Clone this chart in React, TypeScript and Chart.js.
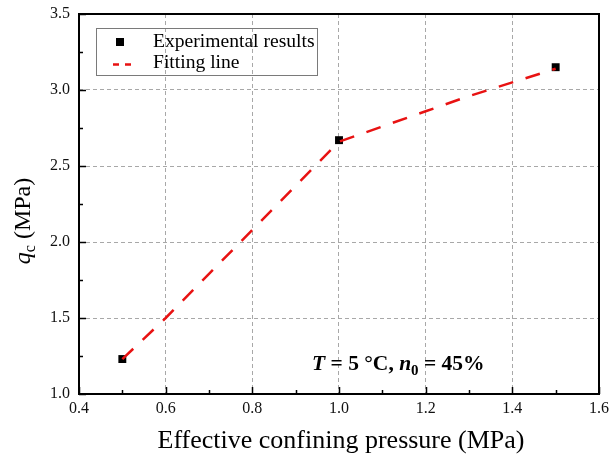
import React, { useEffect, useRef } from 'react';
import { Chart, registerables } from 'chart.js';
Chart.register(...registerables);

const pressures = [0.5, 1.0, 1.5];
const qcMeasured = [1.23, 2.67, 3.15];
const fitPressures = [0.5, 0.6, 0.7, 0.8, 0.9, 1.0, 1.1, 1.2, 1.3, 1.4, 1.5];
const fitQc = [1.23, 1.5, 1.79, 2.08, 2.37, 2.66, 2.76, 2.86, 2.96, 3.05, 3.14];
const xMajorTicks = [0.4, 0.6, 0.8, 1.0, 1.2, 1.4, 1.6];
const xMinorTicks = [0.5, 0.7, 0.9, 1.1, 1.3, 1.5];
const yMajorTicks = [1.0, 1.5, 2.0, 2.5, 3.0, 3.5];
const yMinorTicks = [1.25, 1.75, 2.25, 2.75, 3.25];
const seriesLabels = ['Experimental results', 'Fitting line'];
const xTitle = 'Effective confining pressure (MPa)';

const SERIF = "'Liberation Serif', 'Times New Roman', serif";
const RED = 'rgb(232,18,18)';

type Run = { text: string; font: string; dy?: number };
function drawRuns(ctx: CanvasRenderingContext2D, runs: Run[], x: number, y: number, align: 'left' | 'center') {
  let total = 0;
  for (const r of runs) { ctx.font = r.font; total += ctx.measureText(r.text).width; }
  let cx = align === 'center' ? x - total / 2 : x;
  for (const r of runs) {
    ctx.font = r.font;
    ctx.fillText(r.text, cx, y + (r.dy || 0));
    cx += ctx.measureText(r.text).width;
  }
}

const decor = {
  id: 'decor',
  afterDraw(chart: any) {
    const { ctx, chartArea: a, scales } = chart;
    const xs = scales.x, ys = scales.y;
    ctx.save();
    ctx.strokeStyle = '#000';
    ctx.lineWidth = 1.5;
    ctx.beginPath();
    const tick = (vals: number[], len: number) => {
      for (const v of vals) {
        const px = Math.round(xs.getPixelForValue(v)) + 0.5;
        ctx.moveTo(px, a.bottom); ctx.lineTo(px, a.bottom - len);
      }
    };
    const ytick = (vals: number[], len: number) => {
      for (const v of vals) {
        const py = Math.round(ys.getPixelForValue(v)) + 0.5;
        ctx.moveTo(a.left, py); ctx.lineTo(a.left + len, py);
      }
    };
    tick(xMajorTicks, 7); tick(xMinorTicks, 4);
    ytick(yMajorTicks, 7); ytick(yMinorTicks, 4);
    ctx.stroke();
    ctx.lineWidth = 2;
    ctx.strokeRect(a.left, a.top, a.right - a.left, a.bottom - a.top);

    // legend
    ctx.lineWidth = 1;
    ctx.strokeStyle = '#7a7a7a';
    ctx.strokeRect(96.5, 28.5, 221, 47);
    ctx.fillStyle = '#000';
    ctx.fillRect(116, 38, 8, 8);
    ctx.strokeStyle = RED;
    ctx.lineWidth = 2.5;
    ctx.beginPath();
    ctx.moveTo(113, 64.5); ctx.lineTo(119, 64.5);
    ctx.moveTo(125, 64.5); ctx.lineTo(131, 64.5);
    ctx.stroke();
    ctx.fillStyle = '#000';
    ctx.textBaseline = 'middle';
    ctx.textAlign = 'left';
    ctx.font = `19.6px ${SERIF}`;
    ctx.fillText(seriesLabels[0], 153, 42);
    ctx.fillText(seriesLabels[1], 153, 63);

    // annotation
    ctx.textBaseline = 'alphabetic';
    drawRuns(ctx, [
      { text: 'T', font: `italic bold 21.5px ${SERIF}` },
      { text: ' = 5 °C, ', font: `bold 21.5px ${SERIF}` },
      { text: 'n', font: `italic bold 21.5px ${SERIF}` },
      { text: '0', font: `bold 15px ${SERIF}`, dy: 5 },
      { text: ' = 45%', font: `bold 21.5px ${SERIF}` },
    ], 312, 370, 'left');

    // x title
    drawRuns(ctx, [{ text: xTitle, font: `26px ${SERIF}` }], 341, 448, 'center');

    // y title
    ctx.save();
    ctx.translate(30, 221);
    ctx.rotate(-Math.PI / 2);
    drawRuns(ctx, [
      { text: 'q', font: `italic 24px ${SERIF}` },
      { text: 'c', font: `16px ${SERIF}`, dy: 5 },
      { text: ' (MPa)', font: `24px ${SERIF}` },
    ], 0, 0, 'center');
    ctx.restore();
    ctx.restore();
  },
};

export default function App() {
  const ref = useRef<HTMLCanvasElement>(null);
  useEffect(() => {
    if (!ref.current) return;
    const chart = new Chart(ref.current, {
      type: 'scatter',
      data: {
        datasets: [
          {
            label: seriesLabels[1],
            data: fitPressures.map((x, i) => ({ x, y: fitQc[i] })),
            showLine: true,
            borderColor: RED,
            borderWidth: 2.5,
            borderDash: [15, 13],
            pointRadius: 0,
            fill: false,
            order: 0,
          } as any,
          {
            label: seriesLabels[0],
            data: pressures.map((x, i) => ({ x, y: qcMeasured[i] })),
            pointStyle: 'rect',
            pointRadius: 5.6,
            backgroundColor: '#000',
            borderColor: '#000',
            borderWidth: 0,
            order: 1,
          },
        ],
      },
      options: {
        animation: false,
        responsive: false,
        devicePixelRatio: 1,
        layout: { padding: { top: 14, right: 11, left: 0, bottom: 0 } },
        plugins: { legend: { display: false }, tooltip: { enabled: false } },
        scales: {
          x: {
            type: 'linear',
            min: 0.4,
            max: 1.6,
            afterBuildTicks: (s: any) => { s.ticks = xMajorTicks.map((v) => ({ value: v })); },
            afterFit: (s: any) => { s.height = 61; s.paddingLeft = 0; s.paddingRight = 0; },
            grid: { color: '#a8a8a8', lineWidth: 1, drawTicks: false },
            border: { display: false, dash: [4, 3] },
            ticks: {
              padding: 5,
              color: '#111',
              font: { family: SERIF, size: 16 },
              callback: (v: any) => Number(v).toFixed(1),
            },
          },
          y: {
            type: 'linear',
            min: 1.0,
            max: 3.5,
            afterBuildTicks: (s: any) => { s.ticks = yMajorTicks.map((v) => ({ value: v })); },
            afterFit: (s: any) => { s.width = 79; s.paddingTop = 0; s.paddingBottom = 0; },
            grid: { color: '#a8a8a8', lineWidth: 1, drawTicks: false },
            border: { display: false, dash: [4, 3] },
            ticks: {
              padding: 9,
              color: '#111',
              font: { family: SERIF, size: 16 },
              callback: (v: any) => Number(v).toFixed(1),
            },
          },
        },
      },
      plugins: [decor],
    });
    return () => chart.destroy();
  }, []);
  return (
    <div style={{ position: 'fixed', left: 0, top: 0, width: 610, height: 455, background: '#fff' }}>
      <canvas ref={ref} width={610} height={455} style={{ display: 'block' }} />
    </div>
  );
}
